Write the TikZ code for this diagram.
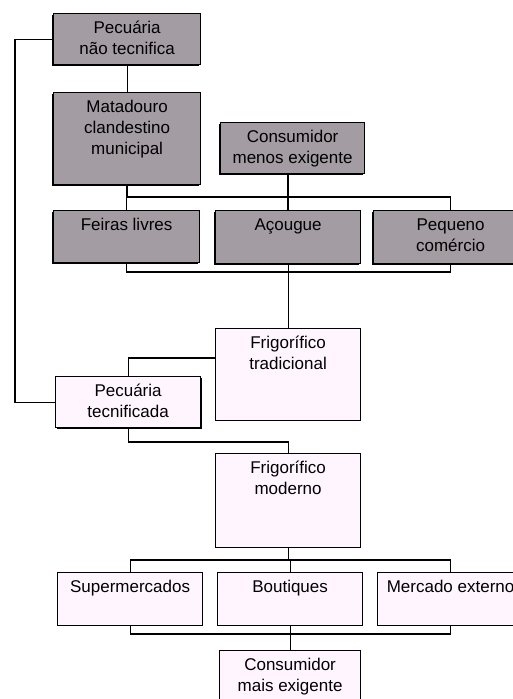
\documentclass[tikz,border=0pt]{standalone}
\usepackage{fontspec}
\setmainfont{Liberation Sans}
\usepackage{tikz}
\usetikzlibrary{calc, shadows}
\usepackage{xcolor}

\definecolor{boxgray}{RGB}{163,156,163}
\definecolor{boxpink}{RGB}{255,245,255}

% text set at the top of a box of width #1 and height #2
\newcommand{\boxtext}[3]{\parbox[b][#2pt][t]{#1pt}{\centering\rule{0pt}{20pt}#3}}

\begin{document}
\begin{tikzpicture}[x=1pt, y=-1pt]

        \clip (0,0) rectangle (513,699);

        \tikzset{
            box/.style={draw=black, line width=1.2pt, inner sep=0pt, anchor=north west,
                        font=\fontsize{17}{21}\selectfont},
            grbox/.style={box, fill=boxgray,
                          drop shadow={shadow xshift=-1.6pt, shadow yshift=-1.6pt, fill=black, opacity=1}},
            pkbox/.style={box, fill=boxpink},
            line/.style={line width=1.2pt, black},
            heavy/.style={line width=2.4pt, black}
        }

        % 1. Rows of the chain (levels where the lines split and join)
        \coordinate (busA) at (0,197);
        \coordinate (busB) at (0,272);
        \coordinate (busC) at (0,560);
        \coordinate (busD) at (0,634);
        \coordinate (loop) at (15,0);
        \coordinate (tradY) at (0,358);
        \coordinate (tecY) at (0,442);

        % 2. Traditional chain - gray boxes
        \node[grbox] (pnt) at (53,13) {\boxtext{147}{51}{Pecuária\\não tecnifica}};
        \node[grbox] (mat) at (53,92) {\boxtext{147}{92}{Matadouro\\clandestino\\municipal}};
        \node[grbox] (cme) at (220,122) {\boxtext{144}{51}{Consumidor\\menos exigente}};

        \node[grbox] (feiras) at (53,210) {\boxtext{146}{52}{Feiras livres}};
        \node[grbox] (aco) at (215,210) {\boxtext{145}{53}{Açougue}};
        \node[grbox] (peq) at (373,210) {\boxtext{154}{53}{Pequeno\\comércio}};

        % 3. Modern chain - light boxes
        \node[pkbox] (ftr) at (215,328) {\boxtext{145}{92}{Frigorífico\\tradicional}};
        \node[pkbox, drop shadow={shadow xshift=1.6pt, shadow yshift=-1.6pt, fill=black, opacity=1}]
            (ptc) at (55,376) {\boxtext{145}{51}{Pecuária\\tecnificada}};
        \node[pkbox] (fmo) at (215,453) {\boxtext{145}{94}{Frigorífico\\moderno}};

        \node[pkbox] (sup) at (57,572) {\boxtext{145}{53}{Supermercados}};
        \node[pkbox] (bou) at (217,572) {\boxtext{145}{53}{Boutiques}};
        \node[pkbox] (mex) at (377,572) {\boxtext{146}{53}{Mercado externo}};
        \node[pkbox] (cmx) at (219,650) {\boxtext{141}{60}{Consumidor\\mais exigente}};

        % 4. Connectors of the traditional chain
        \draw[line] (pnt.south) -- (mat.north);
        \draw[line] (pnt.west) -- (pnt.west -| loop) -- (ptc.west -| loop) -- (ptc.west);
        \draw[heavy] (mat.south) -- (mat.south |- busA);
        \draw[line] (feiras.north) -- (feiras.north |- busA) -| (peq.north);
        \draw[heavy] (cme.south -| aco.north) -- (aco.north);
        \draw[line] (feiras.south) -- (feiras.south |- busB) -| (peq.south);
        \draw[line] (aco.south) -- (ftr.north);

        % 5. Connectors of the modern chain
        \draw[line] (ftr.west |- tradY) -| (ptc.north);
        \draw[line] (ptc.south) |- (fmo.north |- tecY) -- (fmo.north);
        \draw[line] (fmo.south) -- (fmo.south |- busC);
        \draw[line] (sup.north) -- (sup.north |- busC) -| (mex.north);
        \draw[line] (bou.north) -- (bou.north |- busC);
        \draw[line] (sup.south) -- (sup.south |- busD) -| (mex.south);
        \draw[line] (bou.south) -- (cmx.north);

    \end{tikzpicture}
\end{document}
